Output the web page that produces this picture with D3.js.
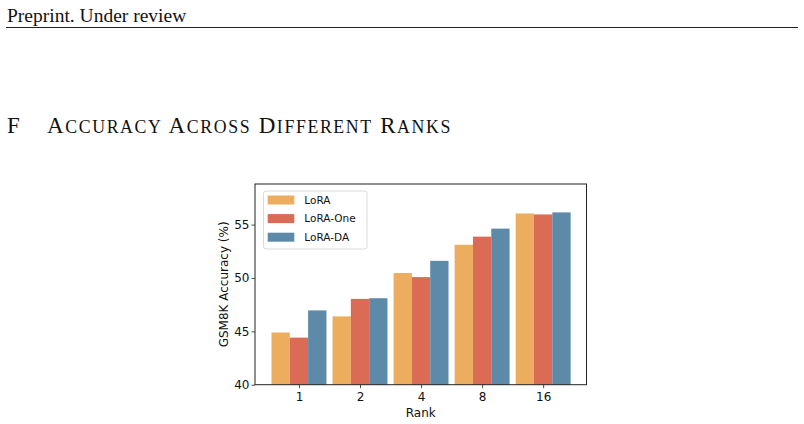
<!DOCTYPE html>
<html>
<head>
<meta charset="utf-8">
<script src="https://cdn.jsdelivr.net/npm/d3@7"></script>
<style>
  body { margin: 0; background: #fff; }
  svg { display: block; }
</style>
</head>
<body>
<div id="chart"></div>
<script>
const ranks = ["1", "2", "4", "8", "16"];
const methods = ["LoRA", "LoRA-One", "LoRA-DA"];
const loraAcc = [44.89, 46.40, 50.46, 53.11, 56.04];
const loraOneAcc = [44.41, 48.04, 50.08, 53.87, 55.95];
const loraDaAcc = [46.96, 48.10, 51.60, 54.62, 56.14];
const yTicks = [40, 45, 50, 55];
const colors = ["#EDAD5F", "#DC6B56", "#5D8AA9"];

const series = [loraAcc, loraOneAcc, loraDaAcc];

const W = 804, H = 424;
const svg = d3.select("#chart").append("svg")
  .attr("width", W).attr("height", H);

const serif = "Liberation Serif, Times New Roman, serif";

// page header
svg.append("text")
  .attr("x", 7).attr("y", 21.5)
  .attr("font-family", serif)
  .attr("font-size", 19.5)
  .attr("fill", "#111")
  .text("Preprint. Under review");
svg.append("line")
  .attr("x1", 6).attr("x2", 798).attr("y1", 27.5).attr("y2", 27.5)
  .attr("stroke", "#222").attr("stroke-width", 1);

// section heading with small caps
const head = svg.append("text")
  .attr("y", 133)
  .attr("font-family", serif)
  .attr("fill", "#111");
head.append("tspan").attr("x", 7).attr("font-size", 23).text("F");
const words = ["Accuracy", "Across", "Different", "Ranks"];
const ht = head.append("tspan").attr("x", 47);
words.forEach((w, i) => {
  ht.append("tspan").attr("font-size", 23).text((i ? " " : "") + w[0]);
  ht.append("tspan").attr("font-size", 17.8).text(w.slice(1).toUpperCase());
});
// widen the small caps run to the width of the original heading (47 -> 452)
const nChars = words.join(" ").length;
const w0 = ht.node().getComputedTextLength();
ht.selectAll("tspan").attr("letter-spacing", Math.max(0, (405 - w0) / nChars));

// plot area
const pL = 255, pR = 586.5, pT = 184, pB = 384.7;
const x = d3.scaleLinear().domain([-0.72, 4.71]).range([pL, pR]);
const y = d3.scaleLinear().domain([40, 58.8]).range([pB, pT]);
const bw = 0.3;

const g = svg.append("g");
series.forEach((vals, k) => {
  g.append("g").selectAll("rect")
    .data(vals)
    .join("rect")
    .attr("x", (d, i) => x(i + (k - 1) * bw - bw / 2))
    .attr("width", x(bw) - x(0))
    .attr("y", d => y(d))
    .attr("height", d => y(40) - y(d))
    .attr("fill", colors[k]);
});

const sans = "DejaVu Sans, sans-serif";
const xAxis = svg.append("g")
  .attr("transform", `translate(0,${pB})`)
  .call(d3.axisBottom(x).tickValues(d3.range(ranks.length)).tickFormat(i => ranks[i]).tickSize(3.5).tickPadding(4.5));
const yAxis = svg.append("g")
  .attr("transform", `translate(${pL},0)`)
  .call(d3.axisLeft(y).tickValues(yTicks).tickSize(3.5).tickPadding(2));
[xAxis, yAxis].forEach(a => {
  a.select(".domain").remove();
  a.selectAll("text").attr("font-family", sans).attr("font-size", 12).attr("fill", "#111");
  a.selectAll("line").attr("stroke", "#222").attr("stroke-width", 0.8);
});

svg.append("rect")
  .attr("x", pL).attr("y", pT)
  .attr("width", pR - pL).attr("height", pB - pT)
  .attr("fill", "none").attr("stroke", "#222").attr("stroke-width", 1);

svg.append("text")
  .attr("x", (pL + pR) / 2).attr("y", 416.5)
  .attr("text-anchor", "middle")
  .attr("font-family", sans).attr("font-size", 12).attr("fill", "#111")
  .text("Rank");
svg.append("text")
  .attr("transform", `translate(228,${(pT + pB) / 2}) rotate(-90)`)
  .attr("text-anchor", "middle")
  .attr("font-family", sans).attr("font-size", 12).attr("fill", "#111")
  .text("GSM8K Accuracy (%)");

// legend
const lg = svg.append("g");
lg.append("rect")
  .attr("x", 263.5).attr("y", 191).attr("width", 103.5).attr("height", 58)
  .attr("rx", 2.5)
  .attr("fill", "#fff").attr("fill-opacity", 0.8)
  .attr("stroke", "#d0d0d0").attr("stroke-width", 0.8);
methods.forEach((m, k) => {
  const cy = 200 + k * 18.6;
  lg.append("rect")
    .attr("x", 267.7).attr("y", cy - 4.5).attr("width", 26.6).attr("height", 9)
    .attr("fill", colors[k]);
  lg.append("text")
    .attr("x", 304.3).attr("y", cy + 3.8)
    .attr("font-family", sans).attr("font-size", 10.5).attr("fill", "#111")
    .text(m);
});
</script>
</body>
</html>
